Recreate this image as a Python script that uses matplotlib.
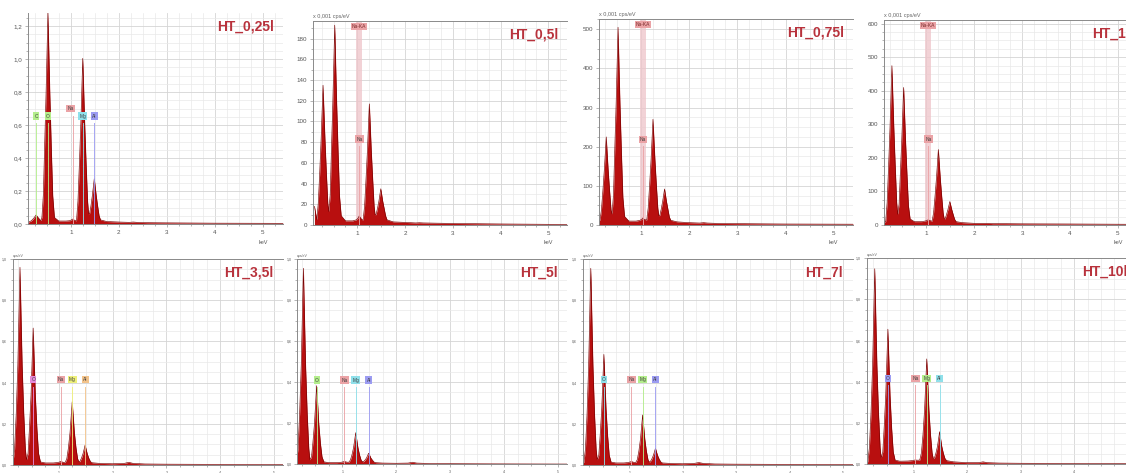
import numpy as np
import matplotlib.pyplot as plt
from matplotlib.ticker import MultipleLocator, FuncFormatter

plt.rcParams['font.family'] = ['Liberation Sans', 'DejaVu Sans']

# vertex energies of the spectra (keV), shared by all eight samples
energy = [0.10, 0.15, 0.18, 0.21, 0.24, 0.26, 0.28, 0.30, 0.32, 0.35,
          0.38, 0.40, 0.43, 0.455, 0.485, 0.505, 0.525, 0.545, 0.565, 0.595,
          0.625, 0.66, 0.75, 0.90, 0.98, 1.02, 1.04, 1.06, 1.10, 1.12,
          1.15, 1.18, 1.21, 1.23, 1.25, 1.27, 1.29, 1.32, 1.35, 1.37,
          1.39, 1.42, 1.45, 1.47, 1.49, 1.51, 1.53, 1.56, 1.59, 1.62,
          1.75, 2.00, 2.22, 2.30, 2.38, 2.60, 3.00, 4.00, 5.50]

# top row counts
ht_025 = [0.010, 0.015, 0.020, 0.029, 0.039, 0.047, 0.055, 0.047, 0.039, 0.029,
          0.020, 0.041, 0.180, 0.460, 0.780, 1.030, 1.285, 1.030, 0.780, 0.460,
          0.170, 0.040, 0.018, 0.018, 0.020, 0.026, 0.030, 0.026, 0.020, 0.020,
          0.140, 0.365, 0.610, 0.810, 1.005, 0.810, 0.610, 0.365, 0.140, 0.067,
          0.060, 0.109, 0.173, 0.224, 0.275, 0.224, 0.173, 0.109, 0.050, 0.025,
          0.015, 0.012, 0.010, 0.012, 0.010, 0.008, 0.007, 0.005, 0.004]
ht_05 = [18, 5, 21, 50, 83, 109, 135, 109, 83, 50,
         21, 13, 29, 71, 118, 155, 193, 155, 118, 71,
         28, 9, 4, 4, 5, 7, 9, 7, 5, 5,
         18, 44, 72, 95, 117, 95, 72, 44, 18, 10,
         10, 16, 23, 29, 35, 29, 23, 16, 9, 5,
         3, 2.5, 2, 2.2, 2, 1.8, 1.5, 1, 0.5]
ht_075 = [15, 12, 38, 87, 140, 182, 225, 182, 140, 87,
          38, 28, 76, 185, 308, 406, 505, 406, 308, 185,
          71, 22, 10, 10, 12, 15, 18, 15, 13, 13,
          43, 102, 167, 218, 270, 218, 167, 102, 43, 24,
          24, 40, 60, 76, 92, 76, 60, 40, 20, 12,
          8, 6, 5, 6, 5, 4, 3.5, 2.5, 2]
ht_1 = [8, 10, 66, 173, 289, 382, 475, 382, 289, 173,
        66, 32, 62, 150, 250, 330, 410, 330, 250, 150,
        58, 18, 10, 10, 12, 14, 16, 14, 12, 12,
        36, 85, 139, 182, 225, 182, 139, 85, 36, 20,
        18, 31, 46, 58, 70, 58, 46, 31, 17, 10,
        7, 5, 5, 5, 4, 4, 3.5, 3, 2]

# bottom row counts (relative)
ht_35 = [0.010, 0.012, 0.077, 0.248, 0.485, 0.723, 0.960, 0.723, 0.485, 0.248,
         0.077, 0.025, 0.056, 0.174, 0.338, 0.501, 0.665, 0.501, 0.338, 0.174,
         0.056, 0.015, 0.010, 0.010, 0.012, 0.015, 0.018, 0.015, 0.012, 0.012,
         0.031, 0.084, 0.159, 0.233, 0.307, 0.233, 0.159, 0.084, 0.031, 0.018,
         0.016, 0.032, 0.054, 0.075, 0.097, 0.075, 0.054, 0.032, 0.016, 0.011,
         0.008, 0.006, 0.008, 0.013, 0.008, 0.005, 0.004, 0.003, 0.002]
ht_5 = [0.010, 0.012, 0.076, 0.246, 0.483, 0.719, 0.955, 0.719, 0.483, 0.246,
        0.076, 0.022, 0.036, 0.103, 0.197, 0.290, 0.383, 0.290, 0.197, 0.103,
        0.036, 0.012, 0.008, 0.008, 0.010, 0.012, 0.015, 0.012, 0.010, 0.010,
        0.020, 0.046, 0.082, 0.118, 0.154, 0.118, 0.082, 0.046, 0.020, 0.014,
        0.012, 0.020, 0.031, 0.043, 0.054, 0.043, 0.031, 0.020, 0.011, 0.008,
        0.006, 0.005, 0.006, 0.010, 0.006, 0.004, 0.003, 0.002, 0.001]
ht_7 = [0.010, 0.012, 0.076, 0.246, 0.483, 0.719, 0.955, 0.719, 0.483, 0.246,
        0.076, 0.025, 0.047, 0.142, 0.274, 0.405, 0.537, 0.405, 0.274, 0.142,
        0.047, 0.014, 0.010, 0.010, 0.012, 0.015, 0.018, 0.015, 0.012, 0.012,
        0.026, 0.068, 0.127, 0.185, 0.243, 0.185, 0.127, 0.068, 0.026, 0.016,
        0.015, 0.028, 0.046, 0.063, 0.081, 0.063, 0.046, 0.028, 0.015, 0.010,
        0.008, 0.006, 0.008, 0.012, 0.008, 0.005, 0.004, 0.003, 0.002]
ht_10 = [0.010, 0.012, 0.080, 0.248, 0.480, 0.713, 0.948, 0.713, 0.480, 0.248,
         0.080, 0.030, 0.060, 0.175, 0.335, 0.495, 0.655, 0.495, 0.335, 0.175,
         0.060, 0.020, 0.015, 0.016, 0.018, 0.020, 0.022, 0.020, 0.020, 0.021,
         0.055, 0.144, 0.266, 0.389, 0.511, 0.389, 0.266, 0.144, 0.055, 0.030,
         0.028, 0.053, 0.087, 0.122, 0.158, 0.122, 0.087, 0.053, 0.028, 0.018,
         0.012, 0.008, 0.008, 0.012, 0.008, 0.006, 0.005, 0.004, 0.003]

spectra = [ht_025, ht_05, ht_075, ht_1, ht_35, ht_5, ht_7, ht_10]
titles = ["HT_0,25l", "HT_0,5l", "HT_0,75l", "HT_1l",
          "HT_3,5l", "HT_5l", "HT_7l", "HT_10l"]

# element line energies (keV)
line_kev = {"C": 0.28, "O": 0.525, "Na": 1.04, "Mg": 1.25, "Al": 1.49}

# colours of the element boxes in each panel
green, pink, cyan, blue = '#b4ee8c', '#eba3a6', '#8fe0ea', '#9c9cf2'
marks = [
    [("C", green), ("O", green), ("Na", pink), ("Mg", cyan), ("Al", blue)],
    [("Na", pink)],
    [("Na", pink)],
    [("Na", pink)],
    [("O", '#e58ad8'), ("Na", pink), ("Mg", '#eef07a'), ("Al", '#f3c38a')],
    [("O", green), ("Na", pink), ("Mg", cyan), ("Al", blue)],
    [("O", cyan), ("Na", pink), ("Mg", green), ("Al", blue)],
    [("O", blue), ("Na", pink), ("Mg", green), ("Al", cyan)],
]
mark_y = [0.655, 83, 219, 256, 0.416, 0.41, 0.416, 0.417]

# layout in pixels: left, right, top, bottom
W, H = 1126, 473
boxes = [(28, 283, 13, 224), (313, 567, 21, 225), (599, 853, 19, 225), (884, 1139, 20, 225),
         (12.7, 282.7, 259, 465), (297.3, 566.7, 259, 464.3), (582.7, 852.7, 259, 465),
         (866.7, 1137.4, 258, 464.3)]
xlims = [(0.11, 5.42), (0.07, 5.39), (0.13, 5.40), (0.115, 5.44),
         (0.145, 5.16), (0.167, 5.16), (0.129, 5.18), (0.13, 5.18)]
ylims = [1.28, 197, 526, 611, 1.0, 1.0, 1.0, 1.0]
ymajor = [0.2, 20, 100, 100, 0.2, 0.2, 0.2, 0.2]
yminor = [0.05, 10, 25, 25, 0.05, 0.05, 0.05, 0.05]

comma = FuncFormatter(lambda v, p: f"{v:.1f}".replace('.', ','))
intfmt = FuncFormatter(lambda v, p: f"{v:.0f}")

fig = plt.figure(figsize=(W / 100, H / 100), dpi=100)

for i in range(8):
    l, r, t, b = boxes[i]
    ax = fig.add_axes([l / W, 1 - b / H, (r - l) / W, (b - t) / H])
    top = i < 4

    ax.fill_between(energy, spectra[i], 0, color='#b80f0f', lw=0, zorder=2)
    ax.plot(energy, spectra[i], color='#780000', lw=0.45, zorder=2)

    ax.set_xlim(*xlims[i])
    ax.set_ylim(0, ylims[i])
    ax.xaxis.set_major_locator(MultipleLocator(1))
    ax.xaxis.set_minor_locator(MultipleLocator(0.25))
    ax.yaxis.set_major_locator(MultipleLocator(ymajor[i]))
    ax.yaxis.set_minor_locator(MultipleLocator(yminor[i]))
    ax.yaxis.set_major_formatter(comma if ymajor[i] < 1 else intfmt)
    ax.grid(which='major', color='#d4d4d4', lw=0.6, zorder=0)
    ax.grid(which='minor', color='#e9e9e9', lw=0.5, zorder=0)
    ax.set_axisbelow(True)

    size = 4.5 if top else 2.5
    ax.tick_params(which='both', direction='out', color='#999999', width=0.5,
                   labelsize=size, labelcolor='#555555', pad=1.5)
    ax.tick_params(which='major', length=2.5)
    ax.tick_params(which='minor', length=1.2)
    ax.spines['right'].set_visible(False)
    for s in ['left', 'bottom', 'top']:
        ax.spines[s].set_color('#8a8a8a')
        ax.spines[s].set_linewidth(0.7)
    if i == 0:
        ax.spines['top'].set_visible(False)

    # unit headers
    if top:
        ax.text(5, -0.075, "keV", transform=ax.get_xaxis_transform(),
                ha='center', va='top', fontsize=4, color='#555555')
        if i > 0:
            ax.text(0.0, 1.01, "x 0,001 cps/eV", transform=ax.transAxes,
                    ha='left', va='bottom', fontsize=4, color='#666666')
    else:
        ax.text(0.0, 1.005, "cps/eV", transform=ax.transAxes,
                ha='left', va='bottom', fontsize=2.5, color='#666666')

    # Na-KA band for the top row spectra
    if 0 < i < 4:
        ax.axvspan(0.975, 1.10, color='#eec4c9', alpha=0.75, lw=0, zorder=1)
        ax.text(1.04, ylims[i] * 0.975, "Na-KA", ha='center', va='center', fontsize=3.5,
                color='#7a2a2a', zorder=4,
                bbox=dict(boxstyle='square,pad=0.2', fc='#eba3a6', ec='none'))

    # element markers
    ym = mark_y[i]
    for sym, col in marks[i]:
        x = line_kev[sym]
        yl = ym
        xb = x
        if i == 0 and sym == "Na":
            yl = 0.70
            xb = 1.0
        ax.plot([x, x], [0, yl - ylims[i] * 0.035], color=col, lw=0.7,
                alpha=0.9, zorder=3)
        ax.text(xb, yl, sym, ha='center', va='center', fontsize=3.5,
                color='#404040', zorder=4,
                bbox=dict(boxstyle='square,pad=0.25', fc=col, ec='none'))

    ax.text(0.965, 0.935, titles[i], transform=ax.transAxes, ha='right', va='center',
            fontsize=10, fontweight='bold', color='#b8323c', zorder=5)

plt.savefig('out.png', dpi=100)
